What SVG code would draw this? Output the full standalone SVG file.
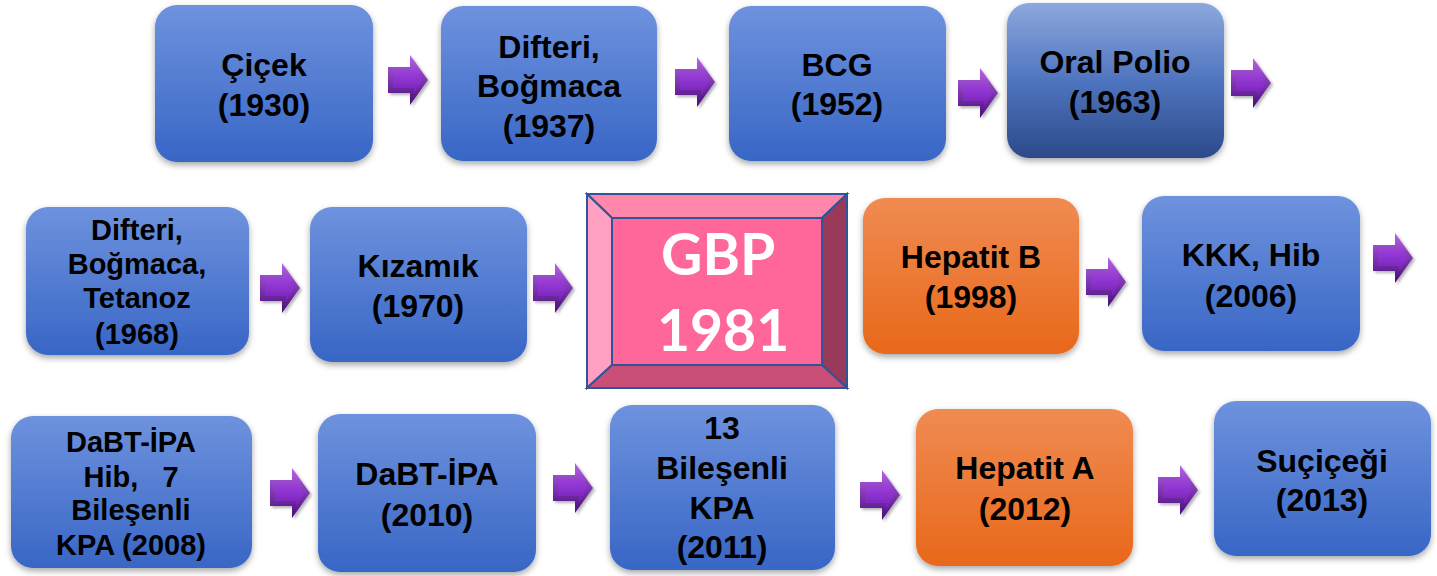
<svg xmlns="http://www.w3.org/2000/svg" width="1437" height="576" viewBox="0 0 1437 576">
<defs>
<linearGradient id="gBlue" x1="0" y1="0" x2="0" y2="1"><stop offset="0" stop-color="#6e92de"/><stop offset="1" stop-color="#3866c5"/></linearGradient>
<linearGradient id="gNavy" x1="0" y1="0" x2="0" y2="1"><stop offset="0" stop-color="#8ca8de"/><stop offset="0.5" stop-color="#4f74bf"/><stop offset="1" stop-color="#2c4a8a"/></linearGradient>
<linearGradient id="gOrange" x1="0" y1="0" x2="0" y2="1"><stop offset="0" stop-color="#f08b52"/><stop offset="1" stop-color="#e8681a"/></linearGradient>
<linearGradient id="gArrOut" x1="0" y1="0" x2="0" y2="1"><stop offset="0" stop-color="#b862ea"/><stop offset="1" stop-color="#460c78"/></linearGradient>
<linearGradient id="gArrIn" x1="0" y1="0" x2="0" y2="1"><stop offset="0" stop-color="#a546e2"/><stop offset="1" stop-color="#7420b8"/></linearGradient>
<filter id="sh" x="-10%" y="-10%" width="120%" height="130%"><feDropShadow dx="0" dy="3" stdDeviation="3" flood-color="#000" flood-opacity="0.35"/></filter>
<filter id="ash" x="-20%" y="-20%" width="150%" height="150%"><feDropShadow dx="2" dy="2" stdDeviation="1.5" flood-color="#000" flood-opacity="0.3"/></filter>
<g id="arrow" filter="url(#ash)">
<path d="M0,12 H22 V0 L40,25 L22,50 V38 H0 Z" fill="url(#gArrOut)"/>
<path d="M5,17 H26 V11 L34,25 L26,39 V33 H5 Z" fill="url(#gArrIn)"/>
</g>
</defs>
<style>
.box{filter:url(#sh)}
.t{font-family:"Liberation Sans",Arial,sans-serif;font-weight:bold;font-size:32px;fill:#000;text-anchor:middle}
.s{font-size:29px}
.g{font-family:Lato,"Open Sans",sans-serif;font-weight:bold;font-size:57px;fill:#fff}
.gb{stroke:#2f5597;stroke-width:2;stroke-linejoin:miter}
</style>
<rect width="1437" height="576" fill="#fff"/>

<g id="n1"><rect class="box" x="155" y="5" width="218" height="157" rx="22" fill="url(#gBlue)"/>
<text class="t" x="264" y="76">Çiçek</text><text class="t" x="264" y="116">(1930)</text></g>
<g id="n2"><rect class="box" x="441" y="6" width="216" height="155" rx="22" fill="url(#gBlue)"/>
<text class="t" x="549" y="58">Difteri,</text><text class="t" x="549" y="97">Boğmaca</text><text class="t" x="549" y="137">(1937)</text></g>
<g id="n3"><rect class="box" x="729" y="6" width="217" height="155" rx="22" fill="url(#gBlue)"/>
<text class="t" x="837" y="76">BCG</text><text class="t" x="837" y="115">(1952)</text></g>
<g id="n4"><rect class="box" x="1007" y="3" width="217" height="155" rx="22" fill="url(#gNavy)"/>
<text class="t" x="1115" y="73">Oral Polio</text><text class="t" x="1115" y="113">(1963)</text></g>

<g id="n5"><rect class="box" x="26" y="207" width="223" height="148" rx="22" fill="url(#gBlue)"/>
<text class="t s" x="137" y="240">Difteri,</text><text class="t s" x="137" y="274">Boğmaca,</text><text class="t s" x="137" y="308">Tetanoz</text><text class="t s" x="137" y="344">(1968)</text></g>
<g id="n6"><rect class="box" x="310" y="207" width="217" height="155" rx="22" fill="url(#gBlue)"/>
<text class="t" x="418" y="277">Kızamık</text><text class="t" x="418" y="317">(1970)</text></g>
<g id="n7">
<polygon class="gb" points="587,194 847,194 822,218 612,218" fill="#ff87a9"/>
<polygon class="gb" points="587,194 612,218 612,365 587,388" fill="#ff9fc1"/>
<polygon class="gb" points="847,194 847,388 822,365 822,218" fill="#993a5b"/>
<polygon class="gb" points="587,388 612,365 822,365 847,388" fill="#c94f78"/>
<rect class="gb" x="612" y="218" width="210" height="147" fill="#ff6699"/>
<text class="g" x="661" y="275">GBP</text><text class="g" x="657" y="351">1981</text></g>
<g id="n8"><rect class="box" x="863" y="198" width="216" height="156" rx="22" fill="url(#gOrange)"/>
<text class="t" x="971" y="268">Hepatit B</text><text class="t" x="971" y="308">(1998)</text></g>
<g id="n9"><rect class="box" x="1142" y="196" width="218" height="155" rx="22" fill="url(#gBlue)"/>
<text class="t" x="1251" y="266">KKK, Hib</text><text class="t" x="1251" y="307">(2006)</text></g>

<g id="n10"><rect class="box" x="11" y="416" width="241" height="152" rx="22" fill="url(#gBlue)"/>
<text class="t s" x="131" y="452">DaBT-İPA</text><text class="t s" x="131" y="487" xml:space="preserve">Hib,   7</text><text class="t s" x="131" y="520">Bileşenli</text><text class="t s" x="131" y="555">KPA (2008)</text></g>
<g id="n11"><rect class="box" x="318" y="414" width="218" height="158" rx="22" fill="url(#gBlue)"/>
<text class="t" x="427" y="485">DaBT-İPA</text><text class="t" x="427" y="526">(2010)</text></g>
<g id="n12"><rect class="box" x="610" y="405" width="225" height="165" rx="22" fill="url(#gBlue)"/>
<text class="t" x="722" y="439">13</text><text class="t" x="722" y="479">Bileşenli</text><text class="t" x="722" y="519">KPA</text><text class="t" x="722" y="558">(2011)</text></g>
<g id="n13"><rect class="box" x="916" y="409" width="217" height="157" rx="22" fill="url(#gOrange)"/>
<text class="t" x="1025" y="479">Hepatit A</text><text class="t" x="1025" y="520">(2012)</text></g>
<g id="n14"><rect class="box" x="1214" y="401" width="217" height="155" rx="22" fill="url(#gBlue)"/>
<text class="t" x="1322" y="472">Suçiçeği</text><text class="t" x="1322" y="511">(2013)</text></g>

<g id="connectors">
<use href="#arrow" x="388" y="55"/>
<use href="#arrow" x="675" y="57"/>
<use href="#arrow" x="958" y="68"/>
<use href="#arrow" x="1231" y="58"/>
<use href="#arrow" x="260" y="263"/>
<use href="#arrow" x="533" y="263"/>
<use href="#arrow" x="1086" y="257"/>
<use href="#arrow" x="1373" y="233"/>
<use href="#arrow" x="270" y="468"/>
<use href="#arrow" x="553" y="463"/>
<use href="#arrow" x="860" y="470"/>
<use href="#arrow" x="1158" y="465"/>
</g>
</svg>
